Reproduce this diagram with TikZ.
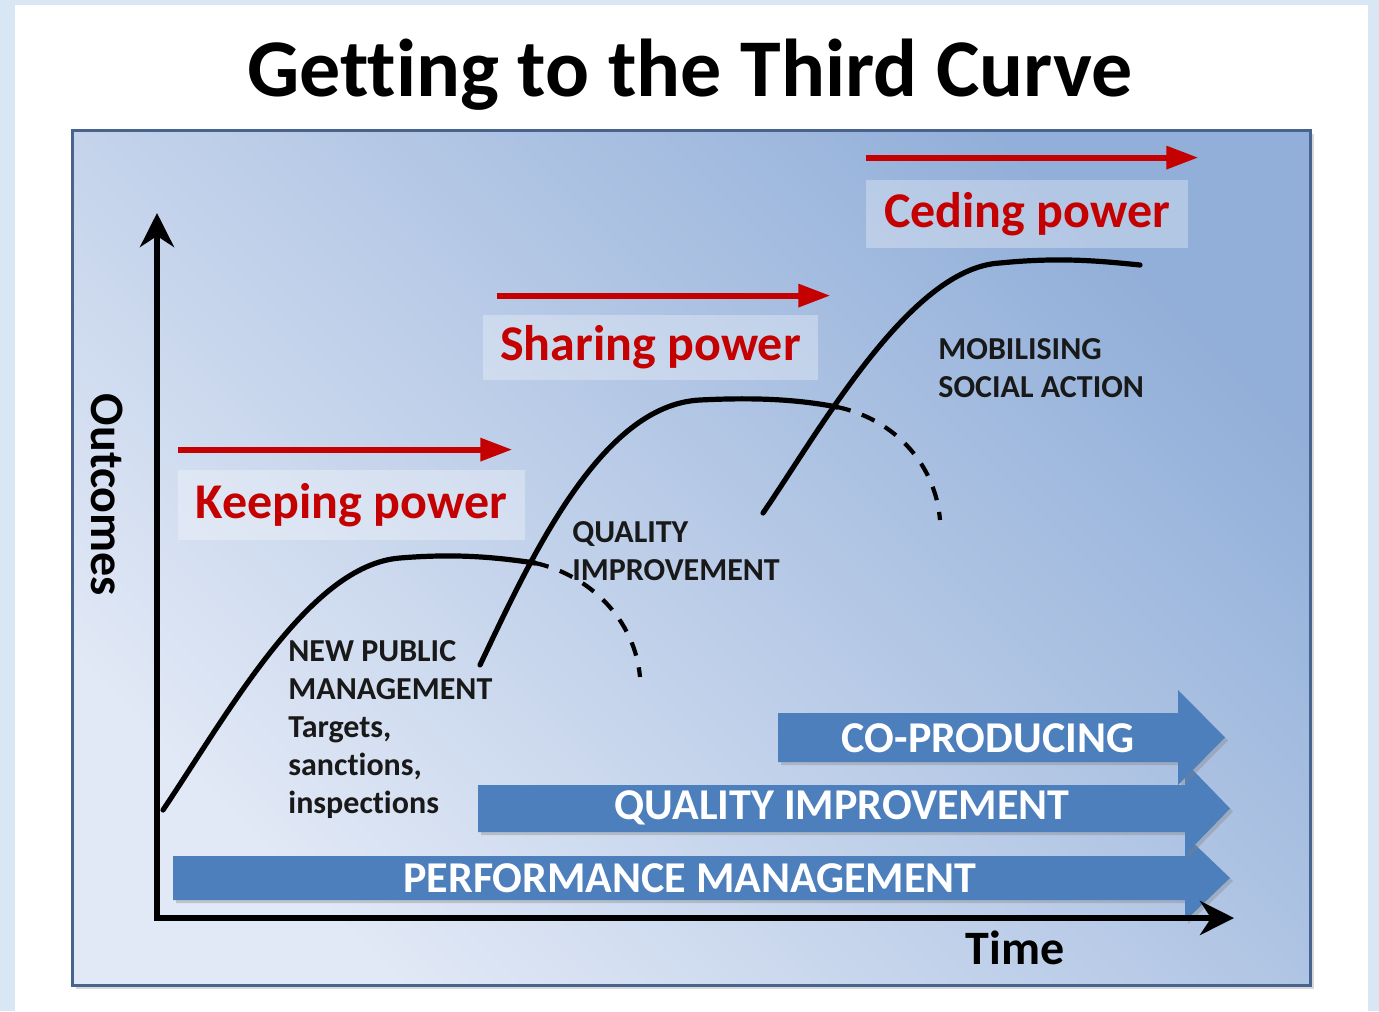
\documentclass[tikz,border=0pt]{standalone}
\usepackage{fontspec}
\setmainfont{Carlito}[Ligatures=NoCommon]
\usetikzlibrary{arrows.meta,shadows,positioning}
\definecolor{slideblue}{RGB}{217,230,244}
\definecolor{panelline}{RGB}{72,100,142}
\definecolor{panellight}{RGB}{226,233,246}
\definecolor{paneldark}{RGB}{146,175,217}
\definecolor{powerred}{RGB}{196,0,0}
\definecolor{barblue}{RGB}{76,127,188}
\begin{document}
\begin{tikzpicture}[x=0.5pt,y=-0.5pt,
  curve/.style={line width=2.6pt,line cap=round},
  fade/.style={line width=2.1pt,dash pattern=on 7pt off 6pt},
  axis/.style={line width=3pt,line join=miter,
    {Stealth[length=17pt,width=17pt]}-{Stealth[length=17pt,width=17pt]}},
  powerarrow/.style={powerred,line width=3pt,-{Triangle[length=16pt,width=11pt]}},
  powerbox/.style={fill=white,fill opacity=0.3,text opacity=1,inner sep=0pt,
    text=powerred,font=\fontsize{25}{30}\selectfont\bfseries},
  stage/.style={align=left,anchor=north west,inner sep=0pt,text=black!90,
    font=\fontsize{16}{19}\selectfont\bfseries},
  bar/.style={fill=barblue,drop shadow={opacity=0.35,shadow xshift=1.5pt,shadow yshift=-1.5pt}},
  barlabel/.style={text=white,font=\fontsize{22}{26}\selectfont\bfseries},
  axislabel/.style={font=\fontsize{24}{28}\selectfont\bfseries}]
\useasboundingbox (0,0) rectangle (1379,1011);
\fill[slideblue] (0,0) rectangle (1379,1011);
\fill[white] (15,5) rectangle (1368,1011);
\node (title) [anchor=base,font=\fontsize{41}{49}\selectfont\bfseries] at (690,97) {Getting to the Third Curve};
\path[top color=paneldark,bottom color=panellight,shading angle=-45,draw=panelline,line width=1.5pt,
  drop shadow={opacity=0.3,shadow xshift=2pt,shadow yshift=-2pt}] (72,130) rectangle (1310,985);

\path[bar] (173,856) -- (1185,856) -- (1185,835) -- (1230,878) -- (1185,921) -- (1185,900) -- (173,900) -- cycle;
\path[bar] (478,785) -- (1185,785) -- (1185,762) -- (1230,808.5) -- (1185,855) -- (1185,832) -- (478,832) -- cycle;
\path[bar] (778,713) -- (1178,713) -- (1178,690) -- (1225,737.5) -- (1178,785) -- (1178,762) -- (778,762) -- cycle;
\node (perfbar) [barlabel] at (690,878) {PERFORMANCE MANAGEMENT};
\node (qualbar) [barlabel] at (842,808) {QUALITY IMPROVEMENT};
\node (coprod) [barlabel] at (988,738) {CO-PRODUCING};

\coordinate (origin) at (157,918);
\coordinate (ytop) at (157,213);
\coordinate (xend) at (1234,918);
\draw[axis] (ytop) -- (origin) -- (xend);
\node (outcomes) [axislabel,rotate=-90] at (107,495) {Outcomes};
\node (time) [axislabel] at (1015,948) {Time};

\node (keep) [powerbox,minimum width=173.5pt,minimum height=35pt] at (351.5,505) {Keeping power};
\node (share) [powerbox,minimum width=167.5pt,minimum height=32.5pt] at (650.5,347.5) {Sharing power};
\node (cede) [powerbox,minimum width=161pt,minimum height=34pt] at (1027,214) {Ceding power};
\draw[powerarrow] ([yshift=10pt]keep.north west) -- ([shift={(-6.5pt,10pt)}]keep.north east);
\draw[powerarrow] ([shift={(7pt,9.5pt)}]share.north west) -- ([shift={(6pt,9.5pt)}]share.north east);
\draw[powerarrow] ([yshift=11pt]cede.north west) -- ([shift={(5pt,11pt)}]cede.north east);

\draw[curve] (163,810) .. controls (230,710) and (310,565) .. (400,558) .. controls (460,553) and (500,558) .. (535,563);
\draw[fade] (535,563) .. controls (590,575) and (635,620) .. (640,677);
\draw[curve] (480,665) .. controls (530,560) and (600,405) .. (700,400) .. controls (760,397) and (800,400) .. (837,407);
\draw[fade] (837,407) .. controls (890,418) and (935,460) .. (940,520);
\draw[curve] (763,513) .. controls (820,430) and (910,268) .. (1000,263) .. controls (1060,257) and (1100,261) .. (1140,265);

\node (npm) [stage] at (288,640) {NEW PUBLIC\\MANAGEMENT\\Targets,\\sanctions,\\inspections};
\node (quality) [stage] at (572,521) {QUALITY\\IMPROVEMENT};
\node (mobilise) [stage] at (938,338) {MOBILISING\\SOCIAL ACTION};
\end{tikzpicture}
\end{document}
